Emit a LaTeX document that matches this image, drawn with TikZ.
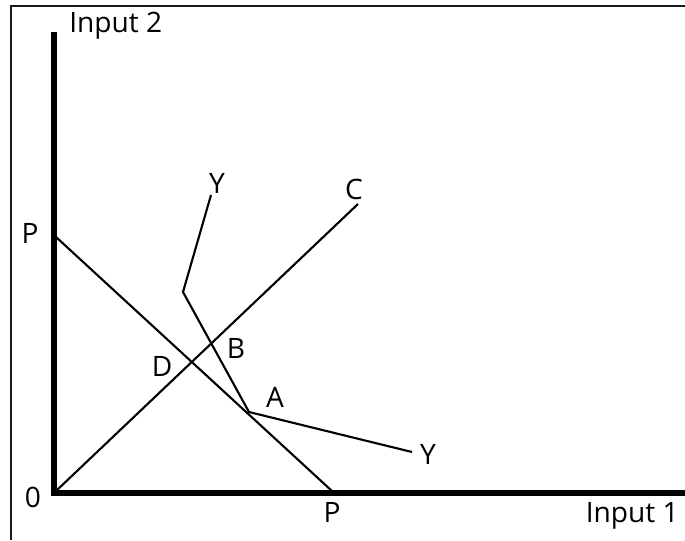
\documentclass[tikz,border=0pt]{standalone}
\usepackage{fontspec}
\setmainfont{Open Sans}
\usepackage{xcolor}
\definecolor{Ink}{HTML}{000000}
\definecolor{Frame}{HTML}{1A1A1A}
\usetikzlibrary{positioning,calc}
\tikzset{
  axisline/.style={line width=0.13cm,draw=Ink,line join=miter,line cap=butt},
  curve/.style={line width=1.2pt,draw=Ink,line join=miter},
  frameline/.style={line width=1pt,draw=Frame},
  lbl/.style={font=\fontsize{16}{19}\selectfont,text=Ink,inner sep=0pt}
}

\begin{document}
\begin{tikzpicture}[x=0.2mm,y=-0.2mm]
  \useasboundingbox (0,0) rectangle (685,540);
  \draw[frameline] (11,540) -- (11,6) -- (685,6);
  % axes
  \coordinate (origin) at (54,493);
  \coordinate (ytop) at (54,32);
  \coordinate (xend) at (685,493);
  \draw[axisline] (ytop) -- (origin) -- (xend);
  % points
  \coordinate (pleft) at (56,237);
  \coordinate (pbottom) at (332,491);
  \coordinate (ctop) at (358,204);
  \coordinate (ystart) at (211,195);
  \coordinate (kink) at (183,292);
  \coordinate (pta) at (249,412);
  \coordinate (yend) at (412,452);
  \draw[curve] (pleft) -- (pbottom);
  \draw[curve] (56,491) -- (ctop);
  \draw[curve] (ystart) -- (kink) -- (pta) -- (yend);
  % labels
  \node[lbl, anchor=base west] (in2) at (69,32) {Input 2};
  \node[lbl, anchor=base east] (in1) at (679,522) {Input 1};
  \node[lbl] (labp1) at (30,233) {P};
  \node[lbl] (labp2) at (332,512) {P};
  \node[lbl] (lab0) at (33,497) {0};
  \node[lbl] (laby1) at (217,183) {Y};
  \node[lbl] (labc) at (354,189) {C};
  \node[lbl] (labb) at (236,348) {B};
  \node[lbl] (labd) at (162,366) {D};
  \node[lbl] (laba) at (275,397) {A};
  \node[lbl] (laby2) at (428,454) {Y};
\end{tikzpicture}
\end{document}
